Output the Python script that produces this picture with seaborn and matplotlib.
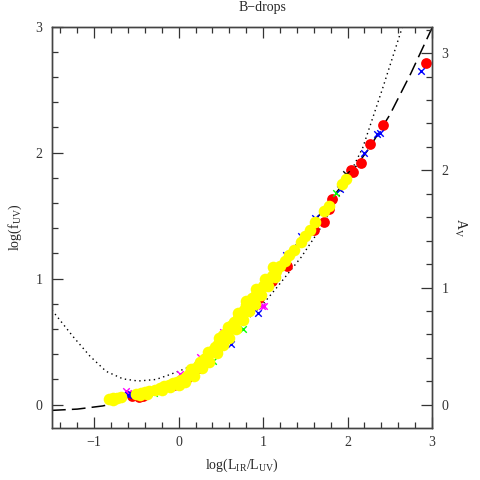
import numpy as np
import pandas as pd
import seaborn as sns
import matplotlib
matplotlib.use('Agg')
import matplotlib.pyplot as plt
from matplotlib.ticker import MultipleLocator

# model curves
dash_x = [-1.5, -1.2, -0.9, -0.7, -0.5, -0.25, 0.0, 0.25, 0.5, 0.75, 1.0, 1.25, 1.5, 1.75, 2.0, 2.25, 2.5, 2.75, 3.0]
dash_y = [-0.045, -0.035, -0.01, 0.02, 0.07, 0.13, 0.2, 0.31, 0.48, 0.69, 0.92, 1.15, 1.36, 1.58, 1.8, 2.03, 2.3, 2.63, 2.99]

dot_x = [-1.5, -1.25, -1.05, -0.86, -0.66, -0.48, -0.27, -0.1, 0.13, 0.4, 0.7, 1.0, 1.15, 1.45, 1.66, 1.9, 2.18, 2.41, 2.65]
dot_y = [0.75, 0.54, 0.385, 0.265, 0.205, 0.188, 0.2, 0.24, 0.3, 0.42, 0.6, 0.8, 0.92, 1.17, 1.38, 1.66, 2.04, 2.5, 3.0]

# galaxies
yel_x = [-0.83, -0.78, -0.73, -0.68, -0.5, -0.45, -0.4, -0.35, -0.28, -0.22, -0.17, -0.12, -0.07, -0.02,
         0.03, 0.07, 0.1, 0.13, 0.16, 0.2, 0.23, 0.27, 0.3, 0.33, 0.36, 0.4, 0.43, 0.46, 0.5, 0.53, 0.56,
         0.6, 0.63, 0.66, 0.7, 0.73, 0.77, 0.8, 0.84, 0.87, 0.9, 0.95, 1.0, 1.05, 1.1, 1.15, 1.2, 1.26,
         1.31, 1.37, 1.45, 1.5, 1.55, 1.62, 1.72, 1.78, 1.93, 1.98,
         # second row, slightly to the lower right
         -0.78, -0.46, -0.38, -0.2, -0.1, 0.0, 0.08, 0.18, 0.28, 0.36, 0.45, 0.52, 0.6, 0.68, 0.76,
         0.83, 0.9, 0.98, 1.06, 1.14, 0.15, 0.25, 0.35, 0.48, 0.58, 0.7, 0.8, 0.92, 1.02, 1.12]
yel_y = [0.045, 0.05, 0.055, 0.065, 0.085, 0.09, 0.1, 0.105, 0.12, 0.135, 0.15, 0.16, 0.17, 0.18,
         0.195, 0.21, 0.23, 0.25, 0.26, 0.29, 0.31, 0.33, 0.36, 0.38, 0.41, 0.43, 0.46, 0.48, 0.52, 0.55, 0.57,
         0.6, 0.63, 0.66, 0.69, 0.72, 0.75, 0.79, 0.82, 0.85, 0.86, 0.9, 0.94, 0.98, 1.02, 1.06, 1.1, 1.14,
         1.19, 1.23, 1.29, 1.34, 1.39, 1.45, 1.54, 1.58, 1.75, 1.79,
         0.035, 0.075, 0.085, 0.12, 0.14, 0.16, 0.18, 0.23, 0.29, 0.34, 0.41, 0.47, 0.53, 0.6, 0.67,
         0.74, 0.8, 0.87, 0.94, 1.01, 0.28, 0.34, 0.42, 0.53, 0.62, 0.73, 0.82, 0.92, 1.0, 1.09]

red_x = [-0.55, -0.47, -0.42, -0.05, 0.1, 0.25, 0.45, 0.56, 0.75, 0.85, 0.95, 1.1, 1.28, 1.6, 1.72,
         1.78, 1.82, 2.04, 2.06, 2.16, 2.27, 2.42, 2.93]
red_y = [0.07, 0.065, 0.07, 0.16, 0.21, 0.29, 0.44, 0.53, 0.68, 0.77, 0.85, 0.98, 1.1, 1.39, 1.45,
         1.55, 1.63, 1.86, 1.85, 1.92, 2.07, 2.22, 2.71]

blue_x = [-0.6, -0.57, -0.29, 0.62, 0.84, 0.94, 1.01, 1.27, 1.45, 1.61, 1.91, 2.19, 2.35, 2.38, 2.87]
blue_y = [0.08, 0.085, 0.105, 0.48, 0.81, 0.73, 0.95, 1.19, 1.34, 1.48, 1.71, 2.0, 2.15, 2.16, 2.65]

green_x = [-0.29, -0.23, -0.2, 0.19, 0.405, 0.76, 1.86]
green_y = [0.09, 0.105, 0.105, 0.3, 0.344, 0.6, 1.68]

mag_x = [-0.62, -0.6, -0.05, -0.03, 0.02, 0.25, 0.52, 0.99, 1.01]
mag_y = [0.105, 0.09, 0.16, 0.16, 0.24, 0.38, 0.58, 0.78, 0.78]

blk_x = [1.98]
blk_y = [1.83]

sns.set_style('ticks')
plt.rcParams['font.family'] = ['Liberation Serif', 'DejaVu Serif']
plt.rcParams['mathtext.fontset'] = 'custom'
plt.rcParams['mathtext.rm'] = 'Liberation Serif'
plt.rcParams['mathtext.it'] = 'Liberation Serif'

fig = plt.figure(figsize=(4.8, 4.8), dpi=100)
ax = fig.add_axes([52/480, 1-428/480, 380/480, (428-26.7)/480])

sns.lineplot(x=dash_x, y=dash_y, sort=False, color='k', lw=1.1, ls=(0, (9, 4)), ax=ax, zorder=1)
sns.lineplot(x=dot_x, y=dot_y, sort=False, color='k', lw=1.0, ls=(0, (1, 2.5)), ax=ax, zorder=1)

sns.scatterplot(x=red_x, y=red_y, color='#ff0000', s=60, linewidth=0, ax=ax, zorder=2)
sns.scatterplot(x=mag_x, y=mag_y, color='#ff00ff', marker='x', s=22, linewidth=1, ax=ax, zorder=3)
sns.scatterplot(x=green_x, y=green_y, color='#00ff00', marker='x', s=22, linewidth=1, ax=ax, zorder=3)
sns.scatterplot(x=blue_x, y=blue_y, color='#0000ff', marker='x', s=22, linewidth=1, ax=ax, zorder=3)
sns.scatterplot(x=blk_x, y=blk_y, color='k', marker='x', s=22, linewidth=1, ax=ax, zorder=3)
sns.scatterplot(x=yel_x, y=yel_y, color='#ffff00', s=70, linewidth=0, ax=ax, zorder=4)

ymin, ymax = -0.185, 3.0
ax.set_xlim(-1.5, 3.0)
ax.set_ylim(ymin, ymax)
ax.xaxis.set_major_locator(MultipleLocator(1))
ax.xaxis.set_minor_locator(MultipleLocator(0.2))
ax.yaxis.set_major_locator(MultipleLocator(1))
ax.yaxis.set_minor_locator(MultipleLocator(0.2))
ax.tick_params(which='both', direction='in', top=True, right=False, labelsize=10, colors='#333333')
ax.tick_params(which='major', length=8, width=0.9)
ax.tick_params(which='minor', length=4, width=0.9)
ax.tick_params(axis='y', pad=7)
ax.tick_params(axis='x', pad=6)
ax.xaxis.set_major_formatter(plt.FuncFormatter(lambda v, p: '\u2212%d' % abs(v) if v < 0 else '%d' % v))

ratio = 0.93
ax2 = ax.twinx()
ax2.set_ylim(ymin / ratio, ymax / ratio)
ax2.yaxis.set_major_locator(MultipleLocator(1))
ax2.yaxis.set_minor_locator(MultipleLocator(0.2))
ax2.tick_params(which='both', direction='in', labelsize=10, colors='#333333', pad=7)
ax2.tick_params(which='major', length=8, width=0.9)
ax2.tick_params(which='minor', length=4, width=0.9)
ax2.set_ylabel(r'A$_{\mathrm{V}}$', rotation=270, fontsize=10, labelpad=14)

for a in (ax, ax2):
    for sp in a.spines.values():
        sp.set_color('#444444')
        sp.set_linewidth(1.0)

ax.set_xlabel(r'log(L$_{\mathrm{IR}}$/L$_{\mathrm{UV}}$)', fontsize=10, labelpad=5)
ax.set_ylabel(r'log(f$_{\mathrm{UV}}$)', fontsize=10, labelpad=8)
fig.text(262/480, 1 - 8/480, 'B\u2212drops', ha='center', va='center', fontsize=10)

fig.savefig('out.png', dpi=100)
